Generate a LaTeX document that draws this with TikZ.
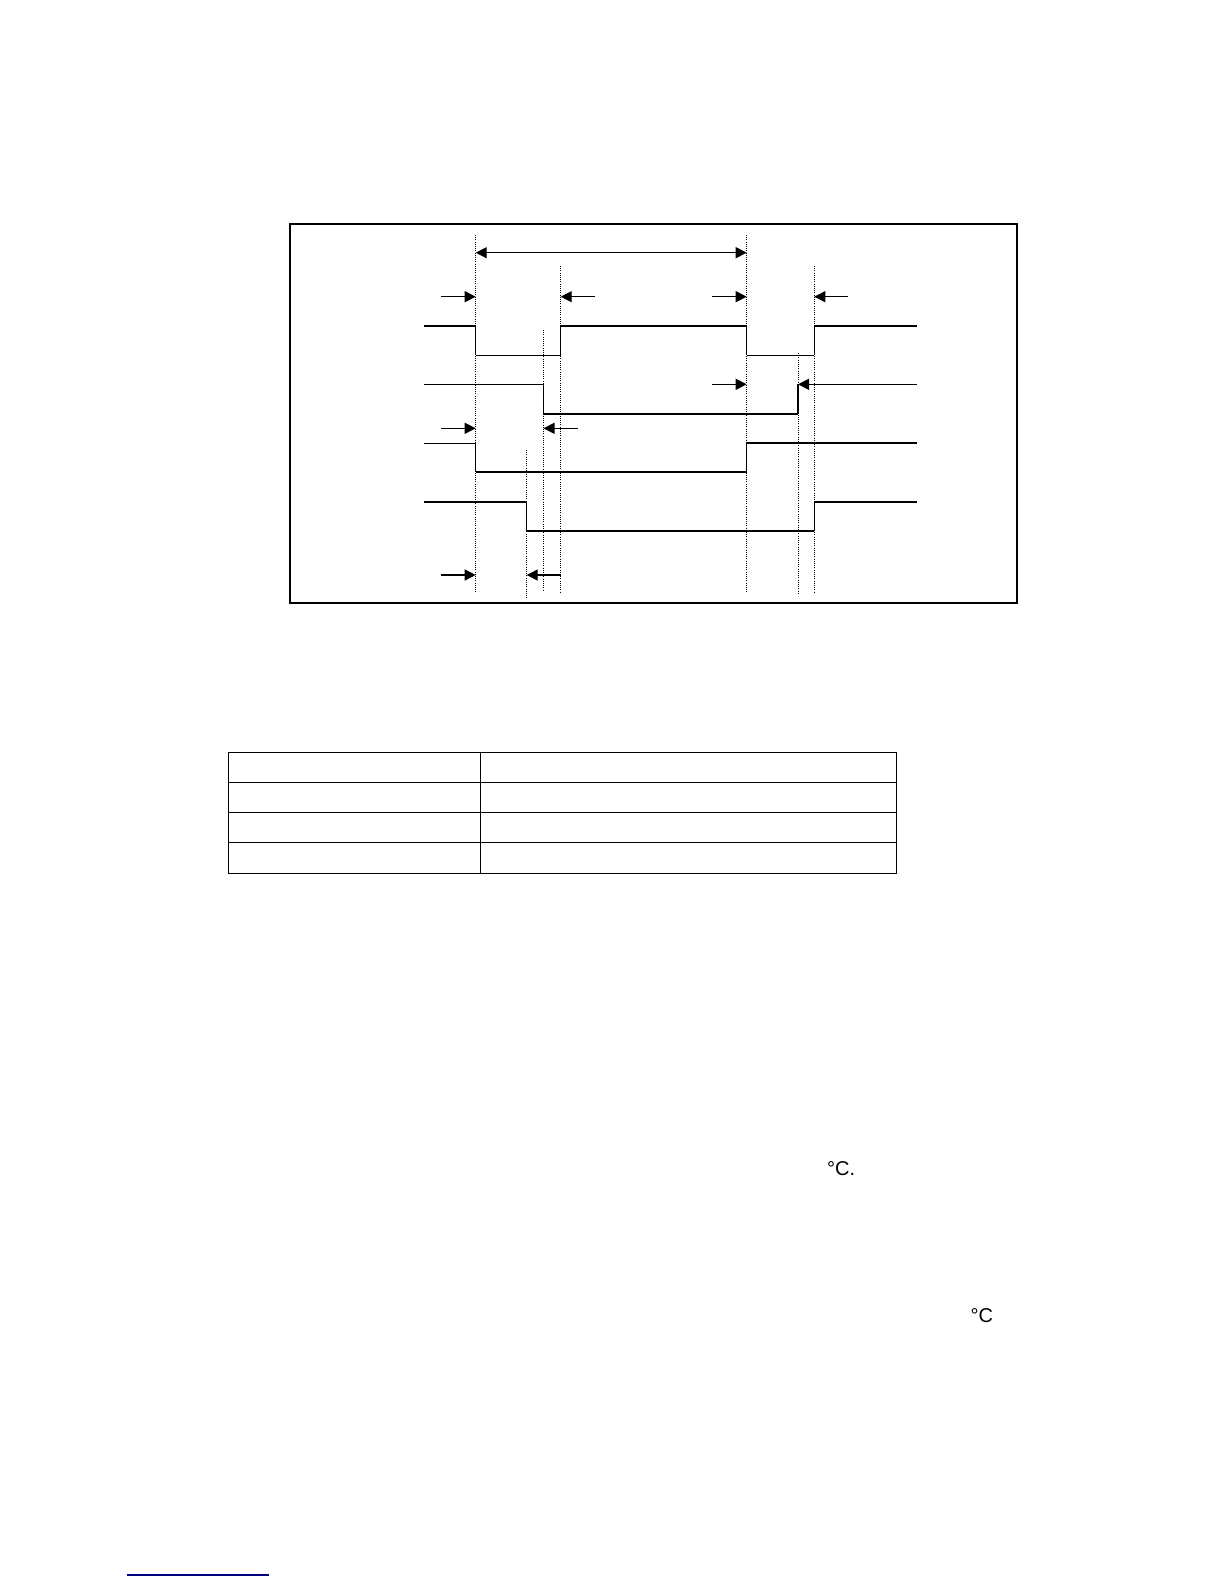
\documentclass[tikz,border=0pt]{standalone}
\usepackage{fontspec}
\setmainfont{Liberation Sans}
\usetikzlibrary{arrows.meta}
\definecolor{linkblue}{RGB}{0,0,128}
\tikzset{
  frame/.style={line width=2pt},
  hi/.style={line width=2pt},
  lo/.style={line width=1.3pt},
  edge/.style={line width=1.5pt},
  guide/.style={line width=0.9pt, dash pattern=on 1pt off 1.2pt},
  tarrow/.style={line width=1.3pt, -{Triangle[length=11pt,width=11pt]}},
  tdarrow/.style={line width=1.3pt, {Triangle[length=11pt,width=11pt]}-{Triangle[length=11pt,width=11pt]}},
  grid/.style={line width=1.3pt},
  lbl/.style={inner sep=0pt, font=\fontsize{20}{24}\selectfont}
}
\begin{document}
\begin{tikzpicture}[x=1pt,y=-1pt]
\useasboundingbox (0,0) rectangle (1224,1584);
% frame
\draw[frame] (290,224) rectangle (1016.7,603.3);
% dotted guides
\foreach \n/\x/\a/\b in {g1/475.7/235/593, g2/746.7/235/593, g3/560.7/266/592, g4/814.3/266/592, g5/543.5/330/591, g6/798/353/595, g7/526.7/450/598}{
  \coordinate (\n t) at (\x,\a);
  \coordinate (\n b) at (\x,\b);
  \draw[guide] (\n t) -- (\n b);
}
% top span arrow
\coordinate (spA) at (475.7,252.7);
\coordinate (spB) at (746.7,252.7);
\draw[tdarrow] (spA) -- (spB);
% row A arrows
\coordinate (a1s) at (441,296.7); \coordinate (a1e) at (475.7,296.7);
\coordinate (a2s) at (595,296.7); \coordinate (a2e) at (560.7,296.7);
\coordinate (a3s) at (711.7,296.7); \coordinate (a3e) at (746.7,296.7);
\coordinate (a4s) at (848,296.7); \coordinate (a4e) at (814.3,296.7);
\draw[tarrow] (a1s) -- (a1e);
\draw[tarrow] (a2s) -- (a2e);
\draw[tarrow] (a3s) -- (a3e);
\draw[tarrow] (a4s) -- (a4e);
% signal 1
\draw[hi] (424,326) -- (475.7,326);
\draw[edge] (475.7,326) -- (475.7,355.3);
\draw[lo] (475.7,355.3) -- (560.7,355.3);
\draw[edge] (560.7,355.3) -- (560.7,326);
\draw[hi] (560.7,326) -- (746.7,326);
\draw[edge] (746.7,326) -- (746.7,355.3);
\draw[lo] (746.7,355.3) -- (814.3,355.3);
\draw[edge] (814.3,355.3) -- (814.3,326);
\draw[hi] (814.3,326) -- (917,326);
% row B arrows
\coordinate (b1s) at (711.7,384.3); \coordinate (b1e) at (746.7,384.3);
\coordinate (b2s) at (917,384.3); \coordinate (b2e) at (798,384.3);
\draw[tarrow] (b1s) -- (b1e);
\draw[tarrow] (b2s) -- (b2e);
% signal 2
\draw[lo] (424,384.3) -- (543.5,384.3);
\draw[edge] (543.5,384.3) -- (543.5,413.5);
\draw[hi] (543.5,413.5) -- (798,413.5);
\draw[edge] (798,413.5) -- (798,384.3);
% row C arrows
\coordinate (c1s) at (441,428.3); \coordinate (c1e) at (475.7,428.3);
\coordinate (c2s) at (577.7,428.3); \coordinate (c2e) at (543.5,428.3);
\draw[tarrow] (c1s) -- (c1e);
\draw[tarrow] (c2s) -- (c2e);
% signal 3
\draw[lo] (424,443.3) -- (475.7,443.3);
\draw[edge] (475.7,443.3) -- (475.7,472);
\draw[lo] (475.7,472) -- (746.7,472);
\draw[edge] (746.7,472) -- (746.7,443.3);
\draw[hi] (746.7,443.3) -- (917,443.3);
% signal 4
\draw[hi] (424,501.7) -- (526.7,501.7);
\draw[edge] (526.7,501.7) -- (526.7,530.7);
\draw[hi] (526.7,530.7) -- (814.3,530.7);
\draw[edge] (814.3,530.7) -- (814.3,501.7);
\draw[hi] (814.3,501.7) -- (917,501.7);
% row D arrows
\coordinate (d1s) at (441,575); \coordinate (d1e) at (475.7,575);
\coordinate (d2s) at (561,575); \coordinate (d2e) at (526.7,575);
\draw[tarrow] (d1s) -- (d1e);
\draw[tarrow] (d2s) -- (d2e);
% table
\draw[grid] (228.3,752.7) rectangle (896.8,873.3);
\foreach \y in {782.3,812.3,842.3}{\draw[grid] (228.3,\y) -- (896.8,\y);}
\draw[grid] (480.7,752.7) -- (480.7,873.3);
% texts
\node[lbl, anchor=base west] (t1) at (827,1175) {°C.};
\node[lbl, anchor=base west] (t2) at (970.5,1322.5) {°C};
% link underline
\coordinate (u1) at (127.3,1575);
\coordinate (u2) at (269,1575);
\draw[linkblue, line width=1.3pt] (u1) -- (u2);
\end{tikzpicture}
\end{document}
